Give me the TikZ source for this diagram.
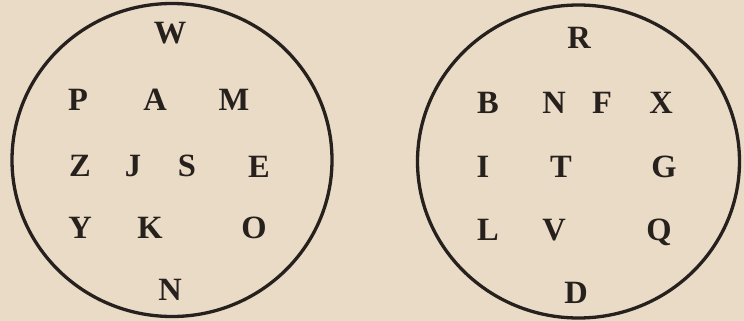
\documentclass[tikz,border=0pt]{standalone}
\usepackage{fontspec}
\setmainfont{Liberation Serif}
\definecolor{paper}{RGB}{234,219,199}
\definecolor{ink}{RGB}{38,33,29}
\begin{document}
\begin{tikzpicture}[x=1pt,y=-1pt,
  lt/.style={inner sep=0pt, text height=21.5pt, text depth=0pt, anchor=center,
    font=\fontsize{32.5}{33}\selectfont\bfseries, text=ink},
  ring/.style={draw=ink, line width=3.3pt}]
\fill[paper] (0,0) rectangle (744,321);
\useasboundingbox (0,0) rectangle (744,321);
% left circle
\draw[ring] (172,160) ellipse [x radius=160, y radius=156.5];
\node[lt] (lW) at (170,33) {W};
\node[lt] (lP) at (78,100) {P};
\node[lt] (lA) at (155,100) {A};
\node[lt] (lM) at (234,100) {M};
\node[lt] (lZ) at (80,166) {Z};
\node[lt] (lJ) at (133,166) {J};
\node[lt] (lS) at (187,166) {S};
\node[lt] (lE) at (259,167) {E};
\node[lt] (lY) at (80,228) {Y};
\node[lt] (lK) at (150,228) {K};
\node[lt] (lO) at (254,228) {O};
\node[lt] (lN) at (170,290) {N};
% right circle
\draw[ring] (578.5,161.5) ellipse [x radius=161, y radius=156.5];
\node[lt] (rR) at (579,38) {R};
\node[lt] (rB) at (488,103) {B};
\node[lt] (rN) at (554,103) {N};
\node[lt] (rF) at (602,103) {F};
\node[lt] (rX) at (661,103) {X};
\node[lt] (rI) at (483,167) {I};
\node[lt] (rT) at (561,167) {T};
\node[lt] (rG) at (664,167) {G};
\node[lt] (rL) at (488,230) {L};
\node[lt] (rV) at (554,230) {V};
\node[lt] (rQ) at (659,230) {Q};
\node[lt] (rD) at (576,293) {D};
\end{tikzpicture}
\end{document}
